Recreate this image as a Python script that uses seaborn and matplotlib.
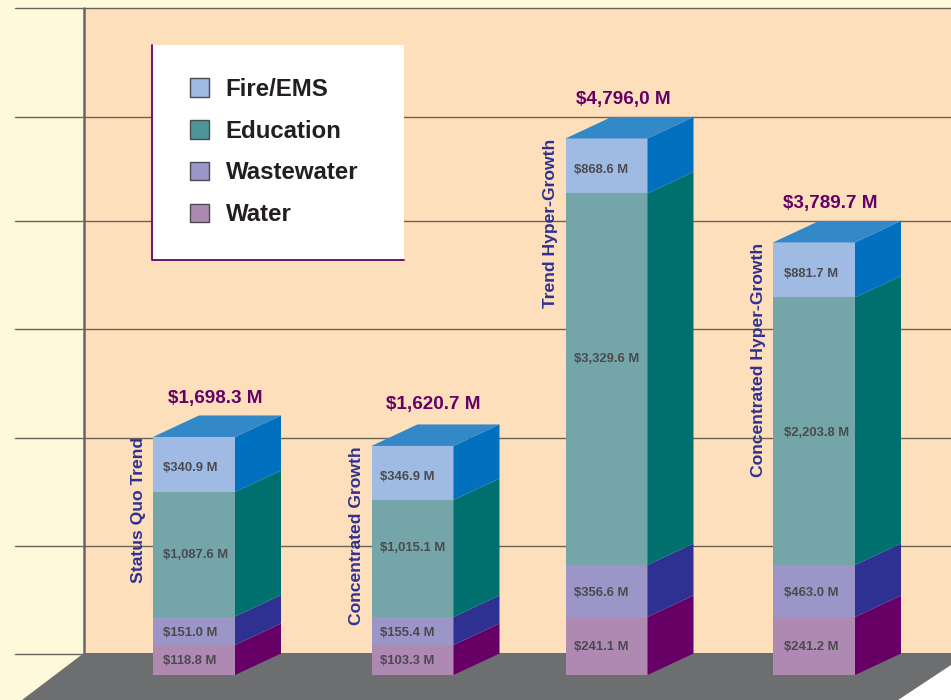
"""
Stacked pseudo 3D bars of cost per growth scenario
"""

# Libraries
import numpy as np
import seaborn as sns
import matplotlib.pyplot as plt
from matplotlib.patches import Patch, Polygon, Rectangle

# -----------------------------------
# Data
# -----------------------------------
scenarios = ['Status Quo Trend', 'Concentrated Growth',
             'Trend Hyper-Growth', 'Concentrated Hyper-Growth']
totals = ['$1,698.3 M', '$1,620.7 M', '$4,796,0 M', '$3,789.7 M']

# Printed labels
water_labels = ['$118.8 M', '$103.3 M', '$241.1 M', '$241.2 M']
wastewater_labels = ['$151.0 M', '$155.4 M', '$356.6 M', '$463.0 M']
education_labels = ['$1,087.6 M', '$1,015.1 M', '$3,329.6 M', '$2,203.8 M']
fire_labels = ['$340.9 M', '$346.9 M', '$868.6 M', '$881.7 M']

# Heights as drawn, read against the gridlines (the picture is not
# proportional to the printed labels, one gridline step = 1000)
water = [277, 277, 536, 536]
wastewater = [263, 259, 480, 480]
education = [1150, 1080, 3430, 2470]
fire = [508, 499, 508, 508]

# -----------------------------------
# Constants
# -----------------------------------
W, H = 951, 700
BASE_PX = 675        # pixel row of the bar base
PX_PER_UNIT = 0.1083
BAR_X = [194, 412.5, 606.5, 814]
BAR_WIDTH = 82
DEPTH_X = 46
DEPTH_Y = 21.5 / PX_PER_UNIT
GRID_PX = [8, 117, 221, 329, 438, 546, 654]

# Front, side and legend colours, then label drop in pixels
SERIES = [
    ('Water', water, water_labels, '#AE8AB2', '#660066', '#AE8AB2', 1),
    ('Wastewater', wastewater, wastewater_labels, '#9C95C8', '#2E3192', '#9C95C8', 2),
    ('Education', education, education_labels, '#74A6A9', '#00706F', '#4D9598', 2),
    ('Fire/EMS', fire, fire_labels, '#A0BBE3', '#0070BF', '#A0BBE3', 4),
]
TOP_COLOR = '#3388C8'

# Small shifts of the printed labels, in pixels
LABEL_DX = [10, 8, 8, 11]
EDUCATION_LIFT = [1, 12, 22, 0]
TOTAL_DX = [62, 62, 57.5, 57]
TOTAL_DY = [38.5, 41, 38.5, 38.5]

# -----------------------------------
# Configuration
# -----------------------------------
sns.set_style('white')
plt.rcParams['font.family'] = ['Liberation Sans', 'DejaVu Sans']

fig = plt.figure(figsize=(W / 100, H / 100), dpi=100)

# Background drawn in pixel coordinates
bg = fig.add_axes([0, 0, 1, 1], zorder=0)
bg.set_xlim(0, W)
bg.set_ylim(H, 0)
bg.axis('off')
bg.add_patch(Rectangle((0, 0), W, H, color='#FFF9DC', lw=0))
bg.add_patch(Polygon([(84, 8), (W, 8), (W, 665), (898, H), (84, H)],
                     color='#FEDFBC', lw=0))
bg.add_patch(Polygon([(W, 665), (W, H), (898, H)], color='white', lw=0))
for y in GRID_PX:
    bg.plot([15, W], [y, y], color='#6A6358', lw=1.0)
bg.plot([84, 84], [8, 654], color='#66666A', lw=1.8)
bg.add_patch(Polygon([(84, 653), (W, 653), (W, 665), (898, H), (22, H)],
                     color='#6D6E70', lw=0, zorder=3))

# Legend box
bg.add_patch(Rectangle((152, 45), 252, 215, color='white', lw=0, zorder=4))
bg.plot([152, 152, 404], [45, 260, 260], color='#660066', lw=1.3, zorder=5)
handles = [Patch(facecolor=s[5], edgecolor='#4A4A55', lw=1) for s in SERIES[::-1]]
names = [s[0] for s in SERIES[::-1]]
bg.legend(handles, names, loc='upper left', bbox_to_anchor=(190, 78),
          bbox_transform=bg.transData, frameon=False, borderpad=0,
          borderaxespad=0, handlelength=0.8, handleheight=0.8,
          handletextpad=0.68, labelspacing=0.78,
          prop={'weight': 'bold', 'size': 17.3},
          labelcolor='#231F20').set_zorder(6)

# Bars on top, one gridline step = 1000
ax = fig.add_axes([0, 0, 1, 1], zorder=1)
ax.patch.set_alpha(0)

# -----------------------------------
# Plot
# -----------------------------------
bottom = np.zeros(4)
for name, values, labels, front, side, _, drop in SERIES:

    # Draw front faces
    n = len(ax.patches)
    sns.barplot(x=BAR_X, y=values, bottom=bottom, color=front, saturation=1,
                native_scale=True, orient='x', width=BAR_WIDTH / 194.0,
                errorbar=None, linewidth=0, ax=ax)
    bars = list(ax.patches[n:])

    for i, bar in enumerate(bars):
        x1 = bar.get_x() + bar.get_width()
        y0, y1 = bar.get_y(), bar.get_y() + bar.get_height()

        # Draw side face
        ax.add_patch(Polygon([(x1, y0), (x1 + DEPTH_X, y0 + DEPTH_Y),
                              (x1 + DEPTH_X, y1 + DEPTH_Y), (x1, y1)],
                             color=side, lw=0))

        # Draw printed label
        lift = EDUCATION_LIFT[i] if name == 'Education' else 0
        ax.text(bar.get_x() + LABEL_DX[i],
                (y0 + y1) / 2 + (lift - drop) / PX_PER_UNIT,
                labels[i], fontsize=9.4, fontweight='bold', color='#4A4A4E',
                ha='left', va='center')

    bottom = bottom + np.array(values)

# Top faces, totals and scenario names (bars is the last series here)
for i, bar in enumerate(bars):
    x0, x1 = bar.get_x(), bar.get_x() + bar.get_width()
    y1 = bar.get_y() + bar.get_height()
    ax.add_patch(Polygon([(x0, y1), (x1, y1), (x1 + DEPTH_X, y1 + DEPTH_Y),
                          (x0 + DEPTH_X, y1 + DEPTH_Y)], color=TOP_COLOR, lw=0))
    ax.text(x0 + TOTAL_DX[i], y1 + TOTAL_DY[i] / PX_PER_UNIT, totals[i], fontsize=13.6,
            fontweight='bold', color='#660066', ha='center', va='center')
    ax.text(x0 - 15, y1, scenarios[i], fontsize=12.6, fontweight='bold',
            color='#2E3192', rotation=90, ha='center', va='top')

# Configure axes
ax.set_xlim(0, W)
ax.set_ylim(-(H - BASE_PX) / PX_PER_UNIT, BASE_PX / PX_PER_UNIT)
ax.axis('off')

plt.savefig('out.png', dpi=100)
